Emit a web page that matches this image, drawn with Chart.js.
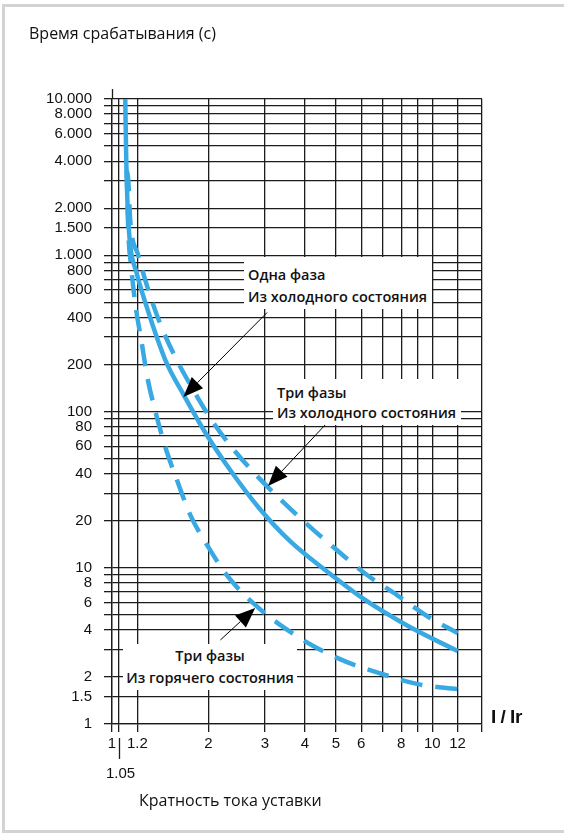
<!DOCTYPE html>
<html lang="ru">
<head>
<meta charset="utf-8">
<title>Время срабатывания</title>
<script src="https://cdn.jsdelivr.net/npm/chart.js@4.4.1/dist/chart.umd.min.js"></script>
<style>
  body { margin: 0; background: #fff; }
  #wrap { position: relative; width: 564px; height: 838px; overflow: hidden; }
  #frame { position: absolute; left: 2px; top: 4px; width: 580px; height: 829px; border: 3px solid #d3d3d3; box-sizing: border-box; }
  canvas { position: absolute; left: 0; top: 0; }
  .txt { position: absolute; font-family: "Open Sans", sans-serif; color: #111; white-space: nowrap; }
  .box { position: absolute; background: #fff; font-family: "Open Sans", sans-serif; font-weight: 600; font-size: 14.5px; color: #111; white-space: nowrap; box-sizing: border-box; }
</style>
</head>
<body>
<div id="wrap">
  <div id="frame"></div>
  <canvas id="chart" width="564" height="838"></canvas>
  <div class="txt" style="left:29px;top:23px;font-size:16px;line-height:20px;">Время срабатывания (с)</div>
  <div class="box" style="left:244px;top:257px;width:188px;height:52px;padding:7px 0 0 4px;line-height:22px;">Одна фаза<br>Из холодного состояния</div>
  <div class="box" style="left:273px;top:379px;width:188px;height:46px;padding:4px 0 0 4px;line-height:20px;">Три фазы<br>Из холодного состояния</div>
  <div class="box" style="left:123px;top:644px;width:174px;height:46px;padding:1px 0 0 0;line-height:22px;text-align:center;">Три фазы<br>Из горячего состояния</div>
  <div class="txt" style="left:106px;top:763px;font-family:'Liberation Sans',sans-serif;font-size:15px;line-height:20px;">1.05</div>
  <div class="txt" style="left:491px;top:705px;font-family:'Liberation Sans',sans-serif;font-weight:bold;font-size:19px;line-height:24px;letter-spacing:-0.5px;">I / Ir</div>
  <div class="txt" style="left:139px;top:790px;font-size:16px;line-height:20px;">Кратность тока уставки</div>
</div>
<script>
  // кратность тока I/Ir и время срабатывания (с)
  const singleColdI = [1.10, 1.108, 1.12, 1.14, 1.191, 1.317, 1.477, 1.681, 1.968, 2.339, 2.86, 3.598, 4.63, 6.17, 8.40, 12];
  const singleColdT = [10000, 4070, 1950, 1160, 781, 397, 207, 126, 71.8, 42.2, 24.5, 14.8, 9.67, 6.22, 4.24, 2.93];

  const threeColdI = [1.112, 1.124, 1.14, 1.208, 1.298, 1.415, 1.576, 1.781, 2.055, 2.39, 2.82, 3.42, 4.16, 5.12, 6.26, 7.76, 9.63, 12];
  const threeColdT = [3500, 3030, 1680, 1000, 600, 363, 223, 141, 87, 57.5, 39.2, 26.4, 18.2, 12.6, 8.98, 6.69, 4.91, 3.82];

  const threeHotI = [1.112, 1.124, 1.149, 1.182, 1.234, 1.289, 1.375, 1.477, 1.587, 1.755, 1.997, 2.306, 2.80, 3.42, 4.25, 5.42, 6.97, 9.02, 12];
  const threeHotT = [3500, 1450, 829, 488, 287, 166, 95, 56.7, 37.5, 21.8, 13.6, 8.73, 5.78, 4.18, 3.16, 2.49, 2.09, 1.80, 1.67];

  const xTickValues = [1, 1.05, 1.2, 2, 3, 4, 5, 6, 7, 8, 9, 10, 12, 14.3];
  const xTickText = ['1', '', '1.2', '2', '3', '4', '5', '6', '', '8', '', '10', '12', ''];

  const yTickValues = [1, 1.5, 2, 3, 4, 5, 6, 7, 8, 9, 10, 20, 30, 40, 50, 60, 70, 80, 90, 100, 200, 300, 400, 500, 600, 700, 800, 900, 1000, 1500, 2000, 3000, 4000, 5000, 6000, 7000, 8000, 9000, 10000];
  const yTickText = { 1: '1', 1.5: '1.5', 2: '2', 4: '4', 6: '6', 8: '8', 10: '10', 20: '20', 40: '40', 60: '60', 80: '80', 100: '100', 200: '200', 400: '400', 600: '600', 800: '800', 1000: '1.000', 1500: '1.500', 2000: '2.000', 4000: '4.000', 6000: '6.000', 8000: '8.000', 10000: '10.000' };

  // стрелки подписей: [хвост, остриё] в координатах данных
  const arrows = [
    [[3.05, 430], [1.67, 124]],
    [[4.69, 84.4], [3.07, 33.4]],
    [[2.18, 3.45], [2.80, 5.53]],
  ];

  const blue = '#39a9e4';
  const gridColor = '#1c1c1c';

  const toPts = (xs, ys) => xs.map((x, i) => ({ x: x, y: ys[i] }));

  const extras = {
    id: 'extras',
    afterDatasetsDraw(chart) {
      const { ctx, chartArea: a, scales: { x, y } } = chart;
      ctx.save();
      ctx.strokeStyle = gridColor;
      ctx.fillStyle = '#000';
      ctx.lineWidth = 1.3;
      // верхний выступ оси Y
      ctx.beginPath();
      ctx.moveTo(Math.round(a.left) + 0.5, a.top - 10);
      ctx.lineTo(Math.round(a.left) + 0.5, a.top);
      ctx.stroke();
      // риска 1.05
      const x105 = Math.round(x.getPixelForValue(1.05)) + 0.5;
      ctx.beginPath();
      ctx.moveTo(x105, a.bottom + 14);
      ctx.lineTo(x105, a.bottom + 35);
      ctx.stroke();
      // стрелки
      ctx.lineWidth = 1;
      ctx.strokeStyle = '#000';
      arrows.forEach(([t, h]) => {
        const x0 = x.getPixelForValue(t[0]), y0 = y.getPixelForValue(t[1]);
        const x1 = x.getPixelForValue(h[0]), y1 = y.getPixelForValue(h[1]);
        const ang = Math.atan2(y1 - y0, x1 - x0);
        const len = 20, half = 8;
        const bx = x1 - len * Math.cos(ang), by = y1 - len * Math.sin(ang);
        ctx.beginPath();
        ctx.moveTo(x0, y0);
        ctx.lineTo(bx, by);
        ctx.stroke();
        ctx.beginPath();
        ctx.moveTo(x1, y1);
        ctx.lineTo(bx + half * Math.sin(ang), by - half * Math.cos(ang));
        ctx.lineTo(bx - half * Math.sin(ang), by + half * Math.cos(ang));
        ctx.closePath();
        ctx.fill();
      });
      ctx.restore();
    },
  };

  new Chart(document.getElementById('chart').getContext('2d'), {
    type: 'line',
    data: {
      datasets: [
        { label: 'Одна фаза, из холодного состояния', data: toPts(singleColdI, singleColdT), borderColor: blue, borderWidth: 4.5 },
        { label: 'Три фазы, из холодного состояния', data: toPts(threeColdI, threeColdT), borderColor: blue, borderWidth: 4.5, borderDash: [21, 13] },
        { label: 'Три фазы, из горячего состояния', data: toPts(threeHotI, threeHotT), borderColor: blue, borderWidth: 4.5, borderDash: [22, 13] },
      ],
    },
    options: {
      responsive: false,
      animation: false,
      layout: { padding: { left: 0, top: 99, right: 82, bottom: 0 } },
      elements: {
        point: { radius: 0 },
        line: { cubicInterpolationMode: 'monotone', fill: false, borderCapStyle: 'butt' },
      },
      plugins: { legend: { display: false }, tooltip: { enabled: false } },
      scales: {
        x: {
          type: 'logarithmic',
          min: 1,
          max: 14.3,
          afterBuildTicks: (s) => { s.ticks = xTickValues.map((v) => ({ value: v })); },
          afterFit: (s) => { s.height = 114; },
          ticks: {
            autoSkip: false,
            maxRotation: 0,
            padding: 3,
            color: '#111',
            font: { family: 'Liberation Sans', size: 15 },
            callback: (v, i) => xTickText[i],
          },
          grid: { color: gridColor, lineWidth: 1.3, tickLength: 8 },
          border: { color: gridColor, width: 1.3 },
        },
        y: {
          type: 'logarithmic',
          min: 1,
          max: 10000,
          afterBuildTicks: (s) => { s.ticks = yTickValues.map((v) => ({ value: v })); },
          afterFit: (s) => { s.width = 112; },
          ticks: {
            autoSkip: false,
            padding: 12,
            color: '#111',
            font: { family: 'Liberation Sans', size: 15 },
            callback: (v) => yTickText[v] || '',
          },
          grid: { color: gridColor, lineWidth: 1.3, tickLength: 8 },
          border: { color: gridColor, width: 1.3 },
        },
      },
    },
    plugins: [extras],
  });
</script>
</body>
</html>
